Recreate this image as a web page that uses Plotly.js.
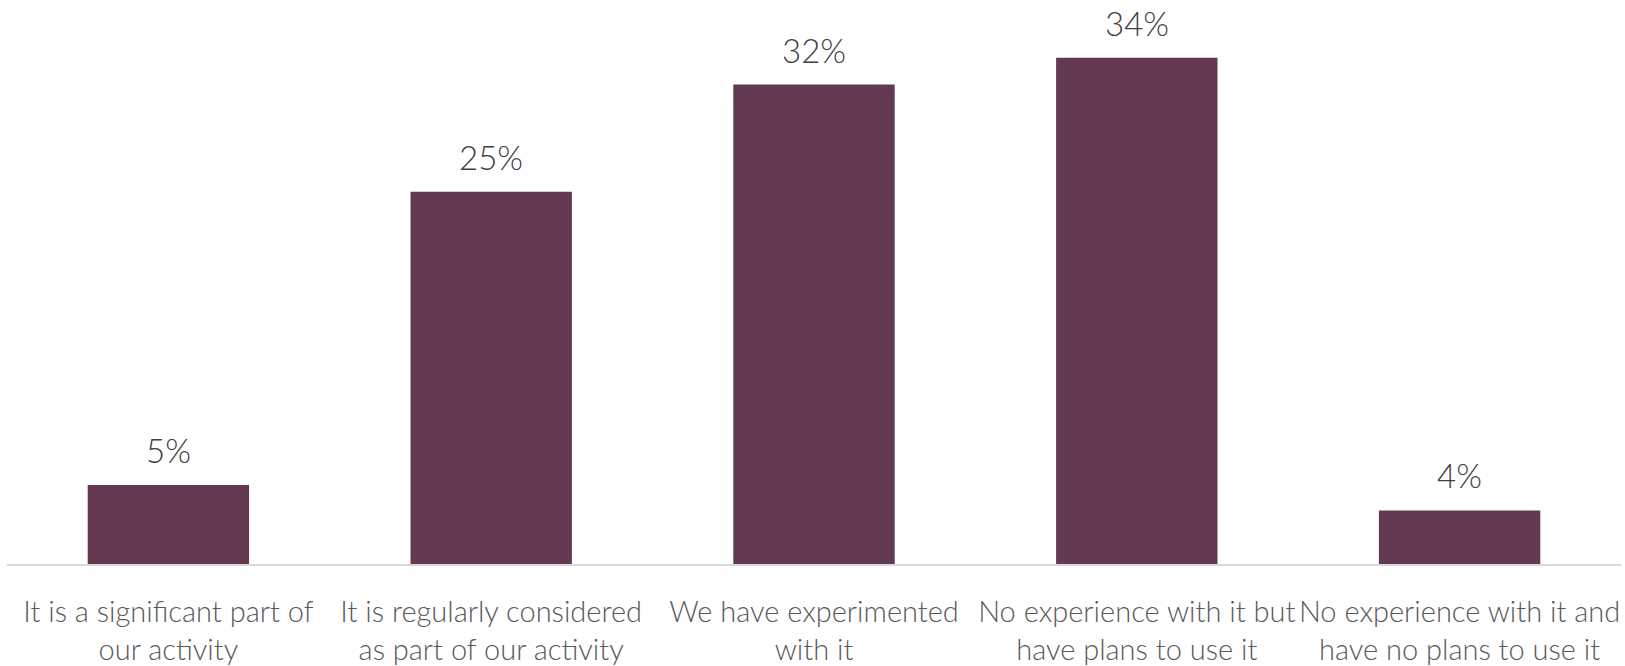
<!DOCTYPE html>
<html>
<head>
<meta charset="utf-8">
<script src="https://cdn.plot.ly/plotly-3.0.1.min.js"></script>
<style>html,body{margin:0;padding:0;background:#fff;}#chart{width:1625px;height:666px;}</style>
</head>
<body>
<div id="chart"></div>
<script>
const categories = [
  "It is a significant part of<br>our activity",
  "It is regularly considered<br>as part of our activity",
  "We have experimented<br>with it",
  "No experience with it but<br>have plans to use it",
  "No experience with it and<br>have no plans to use it"
];
const values = [5.3, 25.0, 32.2, 34.0, 3.6];

const barColor = "#633a52";
const valueColor = "#404040";
const tickColor = "#595959";
const fontFamily = "Lato, 'Open Sans', sans-serif";

const trace = {
  type: "bar",
  x: categories,
  y: values,
  marker: {color: barColor},
  hoverinfo: "skip"
};

const annotations = categories.map((c, i) => ({
  x: c,
  y: values[i],
  xref: "x",
  yref: "y",
  text: Math.round(values[i]) + "%",
  showarrow: false,
  yanchor: "bottom",
  yshift: 13,
  font: {family: fontFamily, size: 33, color: valueColor, weight: 300}
}));

const layout = {
  width: 1625,
  height: 666,
  margin: {l: 7, r: 4, t: 0, b: 102},
  paper_bgcolor: "#ffffff",
  plot_bgcolor: "#ffffff",
  bargap: 0.5,
  showlegend: false,
  xaxis: {
    type: "category",
    showline: true,
    linecolor: "#d9d9d9",
    linewidth: 2,
    showgrid: false,
    ticks: "outside",
    ticklen: 21,
    tickcolor: "rgba(0,0,0,0)",
    tickfont: {family: fontFamily, size: 29, color: tickColor, weight: 300},
    tickangle: 0,
    automargin: false
  },
  yaxis: {
    range: [0, 37.88],
    visible: false,
    showgrid: false,
    zeroline: false
  },
  annotations: annotations
};

Plotly.newPlot("chart", [trace], layout, {displayModeBar: false, staticPlot: true});
</script>
</body>
</html>
